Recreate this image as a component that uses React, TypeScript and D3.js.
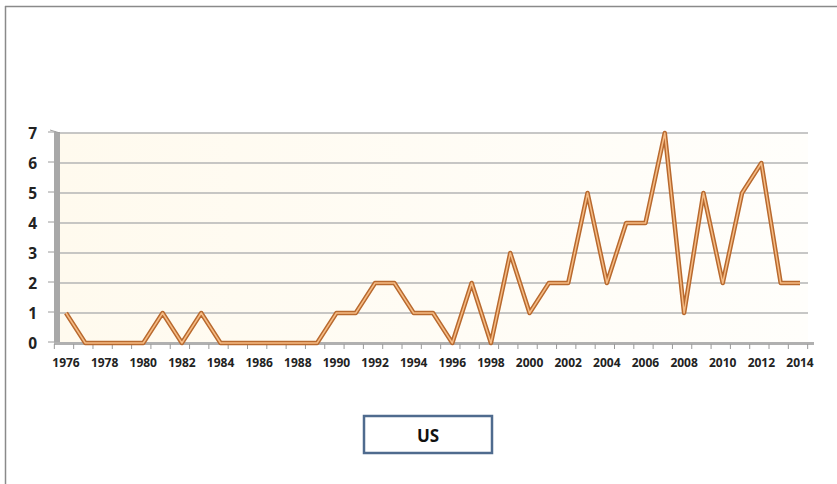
import React from "react";
import * as d3 from "d3";

const years: number[] = d3.range(1976, 2015);
const values: number[] = [
  1, 0, 0, 0, 0, 1, 0, 1, 0, 0, 0, 0, 0, 0, 1, 1, 2, 2, 1, 1, 0, 2, 0, 3, 1, 2,
  2, 5, 2, 4, 4, 7, 1, 5, 2, 5, 6, 2, 2,
];
const yTicks: number[] = [0, 1, 2, 3, 4, 5, 6, 7];
const xTickLabels: number[] = d3.range(1976, 2015, 2);
const seriesName = "US";

export default function App() {
  const W = 837;
  const H = 484;
  const plotLeft = 60;
  const plotRight = 808;
  const top = 133;
  const bottom = 343;
  const x = d3
    .scalePoint<number>()
    .domain(years)
    .range([66, 800]);
  const step = x.step();
  const y = d3.scaleLinear().domain([0, 7]).range([bottom, top]);
  const line = d3
    .line<number>()
    .x((_, i) => x(years[i]) as number)
    .y((d) => y(d));
  const path = line(values) || "";
  const font = "'Open Sans', 'Liberation Sans', sans-serif";
  return (
    <svg
      width={W}
      height={H}
      style={{ position: "absolute", left: 0, top: 0 }}
    >
      <defs>
        <linearGradient id="bg" x1="0" x2="1" y1="0" y2="0">
          <stop offset="0" stopColor="#fffaee" />
          <stop offset="1" stopColor="#fffefb" />
        </linearGradient>
      </defs>
      <rect x={0} y={0} width={W} height={H} fill="#fff" />
      {/* frame */}
      <line x1={5.5} y1={6} x2={5.5} y2={H} stroke="#8a8a8a" strokeWidth={1.5} />
      <line x1={5} y1={6.5} x2={W} y2={6.5} stroke="#8a8a8a" strokeWidth={1.5} />
      {/* plot background */}
      <rect
        x={plotLeft}
        y={top}
        width={plotRight - plotLeft}
        height={bottom - top}
        fill="url(#bg)"
      />
      {/* gridlines */}
      {yTicks.map((t) => (
        <g key={t}>
          <line
            x1={plotLeft - 3}
            x2={plotRight}
            y1={y(t)}
            y2={y(t)}
            stroke="#b4b4b4"
            strokeWidth={1.5}
          />
          <line
            x1={48}
            x2={56}
            y1={y(t) - 1}
            y2={y(t) - 1}
            stroke="#9a9a9a"
            strokeWidth={1}
          />
          <text
            x={37}
            y={y(t) + 5.5}
            textAnchor="end"
            fontFamily={font}
            fontWeight={700}
            fontSize={15.5}
            fill="#222"
          >
            {t}
          </text>
        </g>
      ))}
      {/* left wall */}
      <rect x={54} y={top - 1} width={6} height={bottom - top + 2} fill="#a8a8a8" />
      <line x1={50} y1={top - 3} x2={60} y2={top} stroke="#a0a0a0" strokeWidth={1} />
      {/* floor */}
      <rect x={54} y={bottom - 1} width={plotRight - 54 + 6} height={3} fill="#b0b0b0" />
      {/* x ticks */}
      {d3.range(years.length + 1).map((i) => {
        const xx = 66 - step / 2 + i * step - 2;
        return (
          <line
            key={i}
            x1={xx}
            x2={xx}
            y1={bottom + 1}
            y2={bottom + 6}
            stroke="#9a9a9a"
            strokeWidth={1}
          />
        );
      })}
      {xTickLabels.map((yr) => (
        <text
          key={yr}
          x={x(yr) as number}
          y={bottom + 24}
          textAnchor="middle"
          fontFamily={font}
          fontWeight={700}
          fontSize={12}
          fill="#222"
        >
          {yr}
        </text>
      ))}
      {/* series line */}
      <path
        d={path}
        fill="none"
        stroke="#b8692e"
        strokeWidth={4.5}
        strokeLinejoin="round"
      />
      <path
        d={path}
        fill="none"
        stroke="#f6bc85"
        strokeWidth={1.5}
        strokeLinejoin="round"
      />
      {/* legend */}
      <rect
        x={364}
        y={416}
        width={128}
        height={37}
        fill="#fff"
        stroke="#4f6b8e"
        strokeWidth={2.5}
      />
      <text
        x={428}
        y={442}
        textAnchor="middle"
        fontFamily={font}
        fontWeight={700}
        fontSize={17}
        fill="#111"
      >
        {seriesName}
      </text>
    </svg>
  );
}
